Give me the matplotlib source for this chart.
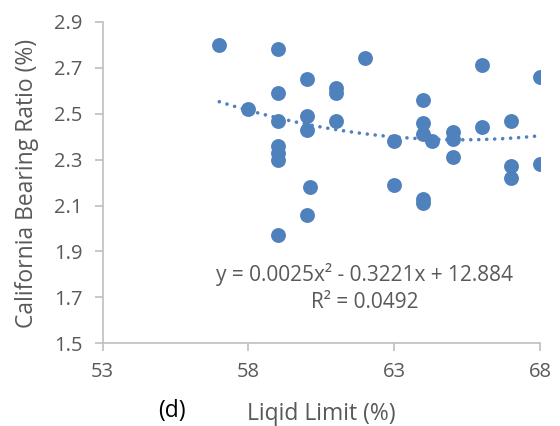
import numpy as np
import matplotlib
matplotlib.use("Agg")
import matplotlib.pyplot as plt

plt.rcParams['font.family'] = ['Open Sans', 'DejaVu Sans']

# liquid limit (%) and CBR (%)
liquid_limit = [57, 59, 62, 60, 61, 61, 59, 58, 59, 60, 60, 61,
                59, 59, 59, 60.1, 60, 59,
                63, 63, 64, 64, 64, 64.3, 64, 64,
                65, 65, 65, 66, 66, 67, 67, 67, 68, 68]
cbr = [2.80, 2.78, 2.74, 2.65, 2.61, 2.59, 2.59, 2.52, 2.47, 2.49, 2.43, 2.47,
       2.36, 2.33, 2.30, 2.18, 2.06, 1.97,
       2.38, 2.19, 2.56, 2.46, 2.41, 2.38, 2.13, 2.11,
       2.42, 2.39, 2.31, 2.71, 2.44, 2.47, 2.27, 2.22, 2.66, 2.28]

# polynomial trendline as drawn (estimated from the curve, the label is rounded)
trend_coef = [0.00241, -0.3147, 12.6595]

eq_text = "y = 0.0025x² - 0.3221x + 12.884"
r2_text = "R² = 0.0492"

blue = '#4f81bd'
grey = '#bfbfbf'
txt = '#595959'

fig = plt.figure(figsize=(5.6, 4.26), dpi=100)
ax = fig.add_axes([0.1834, 0.194, 0.7809, 0.755])

ax.scatter(liquid_limit, cbr, s=115, color=blue, linewidths=0, zorder=3)

xs = np.linspace(min(liquid_limit), max(liquid_limit), 200)
ax.plot(xs, np.polyval(trend_coef, xs), color=blue, lw=2.6,
        linestyle=(0, (0.01, 2.2)), dash_capstyle='round', zorder=2)

ax.set_xlim(53, 68)
ax.set_ylim(1.5, 2.9)
ax.set_xticks([53, 58, 63, 68])
ax.set_yticks(np.arange(1.5, 2.95, 0.2))
ax.set_yticklabels(['1.5', '1.7', '1.9', '2.1', '2.3', '2.5', '2.7', '2.9'])

for s in ['top', 'right']:
    ax.spines[s].set_visible(False)
for s in ['left', 'bottom']:
    ax.spines[s].set_color(grey)
    ax.spines[s].set_linewidth(1.2)
ax.tick_params(axis='both', colors=grey, length=5.5, width=1.2,
               labelcolor=txt, labelsize=14.5)
ax.tick_params(axis='y', pad=9)
ax.tick_params(axis='x', pad=8)

fig.text(27 / 560, 1 - 183 / 426, 'California Bearing Ratio (%)', fontsize=16.5,
         color=txt, ha='center', va='center', rotation=90)
fig.text(321.7 / 560, 1 - 414 / 426, 'Liqid Limit (%)', fontsize=16.5,
         color=txt, ha='center', va='center')
fig.text(172 / 560, 1 - 411 / 426, '(d)', fontsize=16.5,
         color='black', ha='center', va='center')

fig.text(365 / 560, 1 - 274 / 426, eq_text, fontsize=15, color=txt,
         ha='center', va='center')
fig.text(365 / 560, 1 - 302 / 426, r2_text, fontsize=15, color=txt,
         ha='center', va='center')

fig.savefig('out.png', dpi=100)
